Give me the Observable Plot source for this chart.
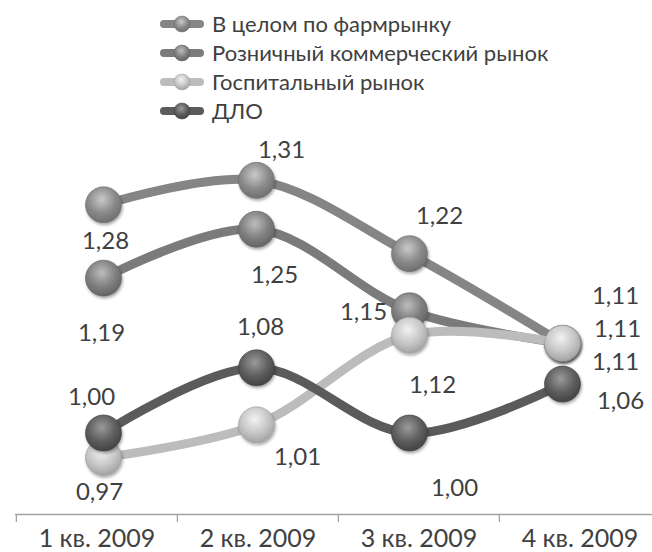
<!DOCTYPE html>
<html><head><meta charset="utf-8">
<script src="https://cdn.jsdelivr.net/npm/d3@7"></script>
<script src="https://cdn.jsdelivr.net/npm/@observablehq/plot@0.6"></script>
<style>
body{margin:0;background:#fff;}
#wrap{position:relative;width:652px;height:552px;overflow:hidden;font-family:Lato,sans-serif;background:#fff;}
#wrap svg.layer{position:absolute;left:0;top:0;}
#legend{position:absolute;left:160px;top:9px;}
.row{display:flex;align-items:center;height:29px;font-size:22px;color:#404040;white-space:nowrap;}
.row svg{margin-right:8px;}
</style></head><body><div id="wrap"></div>
<script>
// ---- data ----
const quarters = ["1 кв. 2009", "2 кв. 2009", "3 кв. 2009", "4 кв. 2009"];
const seriesNames = ["В целом по фармрынку", "Розничный коммерческий рынок", "Госпитальный рынок", "ДЛО"];
const totalMarket = [1.28, 1.31, 1.22, 1.11];
const retailMarket = [1.19, 1.25, 1.15, 1.11];
const hospitalMarket = [0.97, 1.01, 1.12, 1.11];
const dloMarket = [1.00, 1.08, 1.00, 1.06];

// ---- layout / style (not data) ----
const labelOffsets = [
  [[2, 37], [25, -30], [30, -37], [53, -47]],
  [[-2, 55], [18, 46], [-46, 2], [55, -14]],
  [[-4, 35], [41, 32], [23, 50], [53, 19]],
  [[-12, -36], [4, -40], [45, 55], [58, 17]]
];
const styles = [
  {line: "#858585", c0: "#c9c9c9", c1: "#8a8a8a", c2: "#6a6a6a"},
  {line: "#7b7b7b", c0: "#bdbdbd", c1: "#808080", c2: "#5f5f5f"},
  {line: "#bcbcbc", c0: "#f2f2f2", c1: "#c6c6c6", c2: "#9c9c9c"},
  {line: "#5b5b5b", c0: "#9a9a9a", c1: "#5e5e5e", c2: "#3e3e3e"}
];

const seriesValues = [totalMarket, retailMarket, hospitalMarket, dloMarket];
const rows = [];
seriesValues.forEach((vals, s) => vals.forEach((v, i) => rows.push({s, name: seriesNames[s], q: quarters[i], i, v})));
const fmt = v => d3.format(".2f")(v).replace(".", ",");

const W = 652, H = 552, MT = 106.5, MB = 38;
const wrap = document.getElementById("wrap");

// ---- axis layer ----
const axL = 15, axR = -8;
const bw = (W - axL - axR) / quarters.length;
const axisPlot = Plot.plot({
  width: W, height: H, marginLeft: axL, marginRight: axR, marginTop: MT, marginBottom: MB,
  style: {fontFamily: "Lato, sans-serif", background: "transparent"},
  x: {type: "band", domain: quarters, padding: 0},
  y: {domain: [0.9, 1.4], axis: null},
  marks: [
    Plot.ruleY([0.9], {stroke: "#a3a3a3", strokeWidth: 1.3}),
    Plot.axisX({anchor: "bottom", tickSize: 8, tickFormat: () => "", dx: -bw / 2, stroke: "#a3a3a3", strokeWidth: 1.3}),
    Plot.axisX({anchor: "bottom", tickSize: 0, tickPadding: 15, fontSize: 25, fill: "#404040", label: null})
  ]
});
axisPlot.classList.add("layer");
wrap.appendChild(axisPlot);

// ---- main layer ----
const marks = [];
seriesNames.forEach((name, s) => {
  const d = rows.filter(r => r.s === s);
  marks.push(Plot.line(d, {x: "q", y: "v", stroke: styles[s].line, strokeWidth: 9, curve: "catmull-rom", strokeLinecap: "round"}));
  marks.push(Plot.dot(d, {x: "q", y: "v", r: 18, fill: `url(#g${s})`, stroke: styles[s].c2, strokeWidth: 0.6}));
});
rows.forEach(r => {
  const [dx, dy] = labelOffsets[r.s][r.i];
  marks.push(Plot.text([r], {x: "q", y: "v", text: d => fmt(d.v), dx, dy, fontSize: 24, fill: "#404040", lineAnchor: "middle"}));
});

const main = Plot.plot({
  width: W, height: H, marginLeft: 102, marginRight: 90, marginTop: MT, marginBottom: MB,
  style: {fontFamily: "Lato, sans-serif", background: "transparent", overflow: "visible"},
  x: {type: "point", domain: quarters, padding: 0, axis: null},
  y: {domain: [0.9, 1.4], axis: null},
  marks
});
main.classList.add("layer");
const defs = d3.select(main).insert("defs", ":first-child");
let html = `<filter id="sh" x="-50%" y="-50%" width="200%" height="200%"><feDropShadow dx="1" dy="2" stdDeviation="1.6" flood-color="#000" flood-opacity="0.35"/></filter>`;
styles.forEach((st, s) => {
  html += `<radialGradient id="g${s}" cx="45%" cy="35%" r="70%"><stop offset="0%" stop-color="${st.c0}"/><stop offset="55%" stop-color="${st.c1}"/><stop offset="100%" stop-color="${st.c2}"/></radialGradient>`;
});
defs.html(html);
d3.select(main).selectAll('g[aria-label="dot"] circle').attr("filter", "url(#sh)");
wrap.appendChild(main);

// ---- legend ----
const legend = document.createElement("div");
legend.id = "legend";
seriesNames.forEach((name, s) => {
  const row = document.createElement("div");
  row.className = "row";
  row.innerHTML = `<svg width="44" height="18" viewBox="0 0 44 18"><line x1="4" y1="9" x2="40" y2="9" stroke="${styles[s].line}" stroke-width="8" stroke-linecap="round"/><circle cx="22" cy="9" r="8" fill="url(#g${s})" stroke="${styles[s].c2}" stroke-width="0.5"/></svg><span>${name}</span>`;
  legend.appendChild(row);
});
wrap.appendChild(legend);
</script>
</body></html>
